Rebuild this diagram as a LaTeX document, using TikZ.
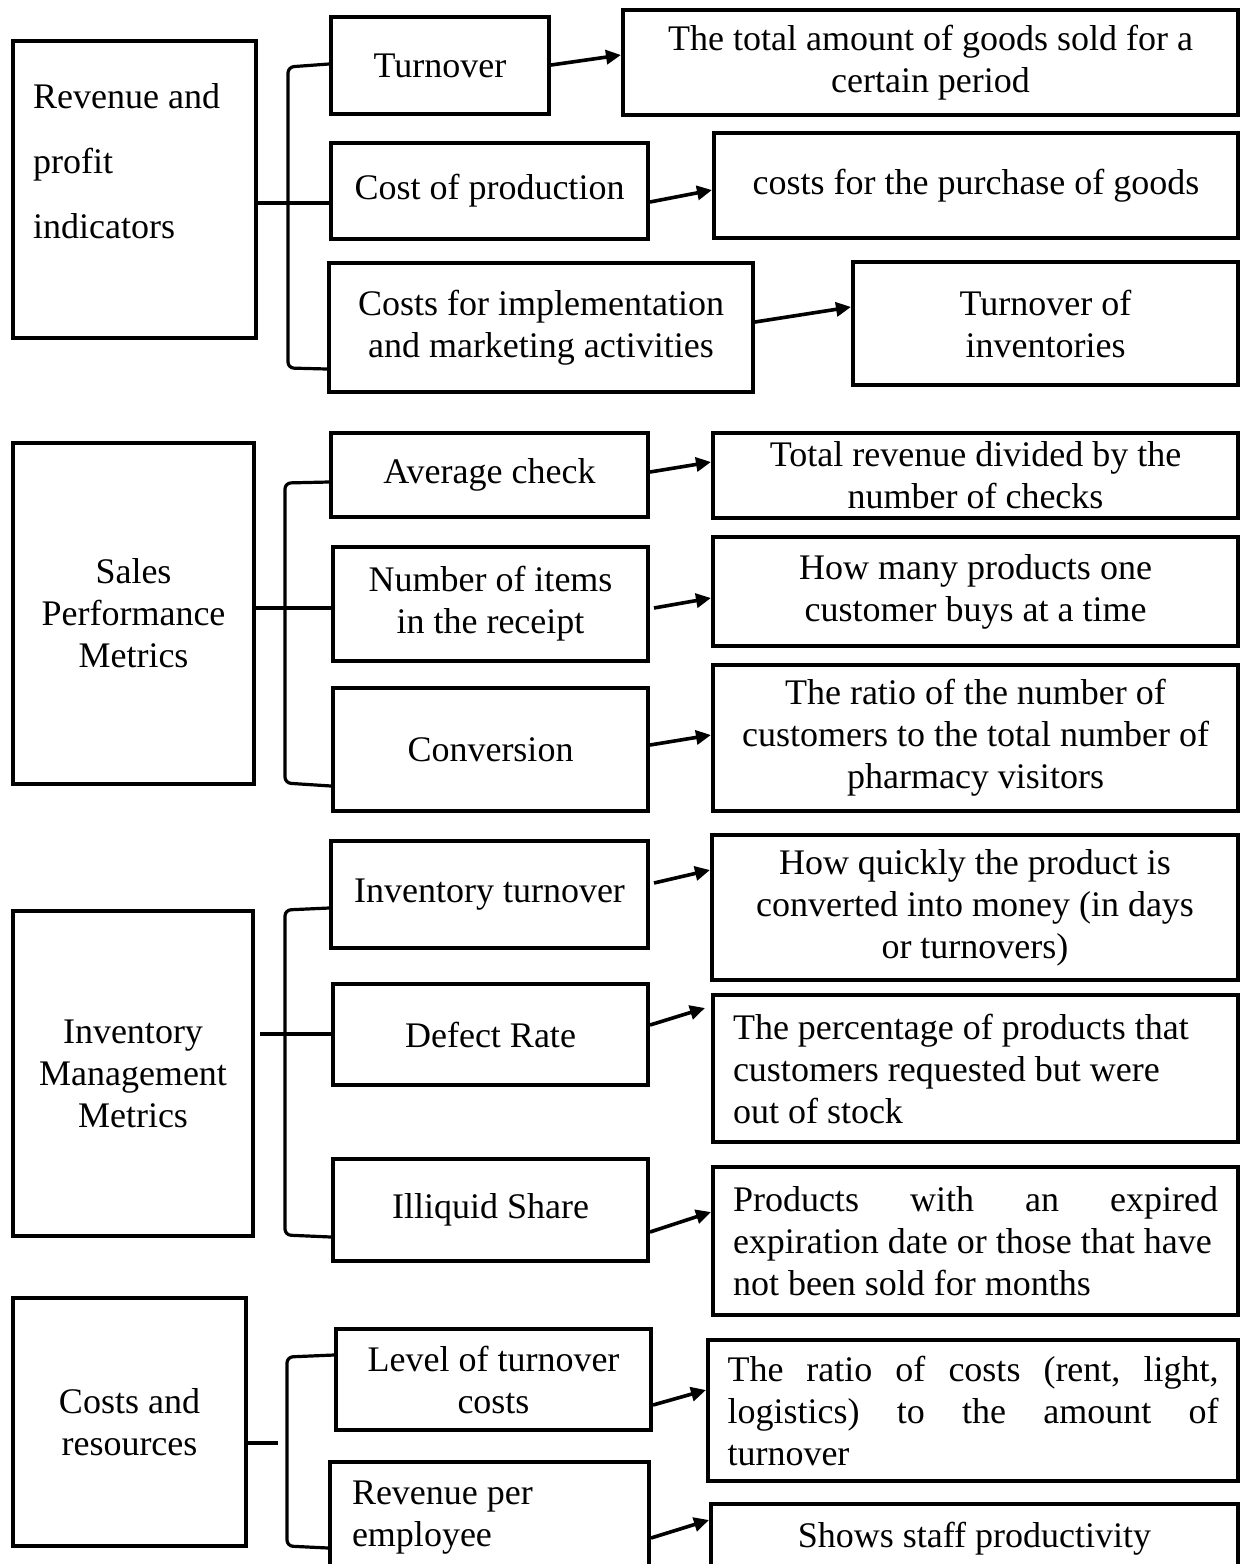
\documentclass[tikz,border=0pt]{standalone}
\usepackage{fontspec}
\setmainfont{Liberation Serif}
\usetikzlibrary{arrows.meta}
\begin{document}
\begin{tikzpicture}[x=1pt,y=-1pt,
  box/.style={draw, line width=4pt, inner sep=0pt, align=center,
    font=\fontsize{36pt}{42pt}\selectfont},
  lbox/.style={box, align=flush left, text width=#1pt,
    execute at begin node={\spaceskip=0pt\xspaceskip=0pt\relax}},
  sz/.style 2 args={minimum width=#1pt, minimum height=#2pt},
  brace/.style={line width=3.2pt, rounded corners=6pt},
  arr/.style={line width=3.6pt, -{Triangle[length=15pt,width=14pt]}},
]
\useasboundingbox (0,0) rectangle (1243,1564);
\clip (0,0) rectangle (1243,1564);
\fill[white] (0,0) rectangle (1243,1564);

% ---------- Revenue and profit indicators ----------
\node[box, sz={243}{297}] (rev) at (134.5,189.5) {};
\node[anchor=west, align=left, inner sep=0pt,
  font=\fontsize{36pt}{65pt}\selectfont] (revlbl) at (33,161)
  {Revenue and\\profit\\indicators};
\node[box, sz={218}{97}]  (turn) at (440,65.5) {Turnover};
\node[box, sz={317}{96}]  (cop)  at (489.5,191) {Cost of production};
\node[box, sz={424}{129}] (impl) at (541,327.5) {Costs for implementation\\and marketing activities};
\node[box, sz={615}{105}] (total) at (930.5,62.5) {The total amount of goods sold for a\\certain period};
\node[box, sz={524}{105}] (purch) at (976,185.5) {costs for the purchase of goods};
\node[box, sz={385}{123}] (invs) at (1045.5,323.5) {Turnover of\\inventories};

\draw[brace] (turn.west |- 0,64) -- (288,67) -- (288,368) -- (impl.west |- 0,369);
\draw[brace] (rev.east |- 0,203) -- (cop.west |- 0,203);
\draw[arr] (turn.east |- 0,65) -- (total.west |- 0,55);
\draw[arr] (cop.east |- 0,202) -- (purch.west |- 0,190);
\draw[arr] (impl.east |- 0,322) -- (invs.west |- 0,307);

% ---------- Sales Performance Metrics ----------
\node[box, sz={241}{341}] (sales) at (133.5,613.5) {Sales\\Performance\\Metrics};
\node[box, sz={317}{84}]  (avg)  at (489.5,475) {Average check};
\node[box, sz={315}{114}] (num)  at (490.5,604) {Number of items\\in the receipt};
\node[box, sz={315}{123}] (conv) at (490.5,749.5) {Conversion};
\node[box, sz={525}{85}]  (totrev) at (975.5,475.5) {Total revenue divided by the\\number of checks};
\node[box, sz={525}{109}] (howmany) at (975.5,591.5) {How many products one\\customer buys at a time};
\node[box, sz={525}{146}] (ratio) at (975.5,738) {The ratio of the number of\\customers to the total number of\\pharmacy visitors};

\draw[brace] (avg.west |- 0,482) -- (285,483) -- (285,783) -- (conv.west |- 0,786);
\draw[brace] (sales.east |- 0,608) -- (num.west |- 0,608);
\draw[arr] (avg.east |- 0,472) -- (totrev.west |- 0,462);
\draw[arr] ([xshift=4pt]num.east |- 0,608) -- (howmany.west |- 0,598);
\draw[arr] (conv.east |- 0,745) -- (ratio.west |- 0,735);

% ---------- Inventory Management Metrics ----------
\node[box, sz={240}{325}] (invm) at (133,1073.5) {Inventory\\Management\\Metrics};
\node[box, sz={317}{107}] (invt) at (489.5,894.5) {Inventory turnover};
\node[box, sz={315}{101}] (defect) at (490.5,1034.5) {Defect Rate};
\node[box, sz={315}{102}] (illiq) at (490.5,1210) {Illiquid Share};
\node[box, sz={526}{145}] (quick) at (975,907.5) {How quickly the product is\\converted into money (in days\\or turnovers)};
\node[lbox=485, sz={525}{147}] (percent) at (975.5,1068.5)
  {The percentage of products that\\customers requested but were\\out of stock};
\node[lbox=485, sz={525}{148}] (products) at (975.5,1241)
  {Products\hfill with\hfill an\hfill expired\\\mbox{expiration date or those that have}\\not been sold for months};

\draw[brace] (invt.west |- 0,908) -- (285,910) -- (285,1235) -- (illiq.west |- 0,1237);
\draw[brace] ([xshift=5pt]invm.east |- 0,1034) -- (defect.west |- 0,1034);
\draw[arr] ([xshift=4pt]invt.east |- 0,883) -- (quick.west |- 0,870);
\draw[arr] (defect.east |- 0,1025) -- ([xshift=-6pt]percent.west |- 0,1008);
\draw[arr] (illiq.east |- 0,1232) -- (products.west |- 0,1212);

% ---------- Costs and resources ----------
\node[box, sz={233}{248}] (costs) at (129.5,1422) {Costs and\\resources};
\node[box, sz={315}{101}] (level) at (493.5,1379.5) {Level of turnover\\costs};
\node[lbox=275, sz={319}{111}] (revemp) at (489.5,1517.5) {Revenue per\\employee};
\node[lbox=491, sz={530}{141}] (ratiocost) at (973,1410.5)
  {The\hfill ratio\hfill of\hfill costs\hfill (rent,\hfill light,\\logistics)\hfill to\hfill the\hfill amount\hfill of\\turnover};
\node[box, sz={527}{69}] (shows) at (974.5,1538.5) {Shows staff productivity};

\coordinate (costsend) at (278,1443);
\draw[brace] (level.west |- 0,1355) -- (287,1357) -- (287,1546) -- (revemp.west |- 0,1548);
\draw[brace] (costs.east |- 0,1443) -- (costsend);
\draw[arr] (level.east |- 0,1405) -- (ratiocost.west |- 0,1390);
\draw[arr] (revemp.east |- 0,1538) -- (shows.west |- 0,1520);
\end{tikzpicture}
\end{document}
